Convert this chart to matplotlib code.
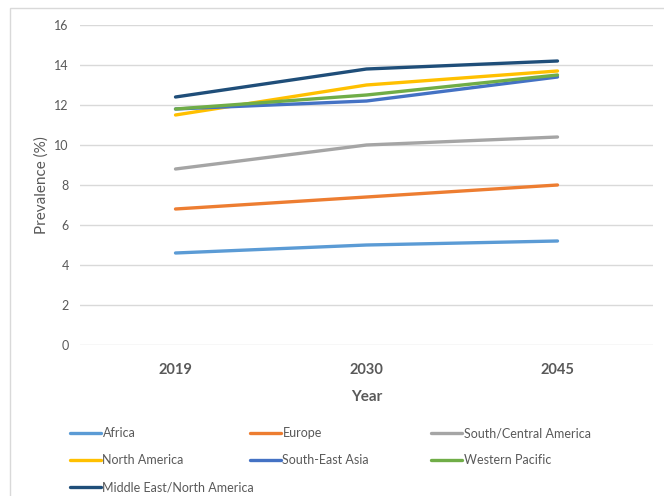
import matplotlib.pyplot as plt
from matplotlib.patches import Rectangle

plt.rcParams['font.family'] = ['Lato', 'DejaVu Sans']

years = ['2019', '2030', '2045']
regions = ['Africa', 'Europe', 'South/Central America', 'North America',
           'South-East Asia', 'Western Pacific', 'Middle East/North America']
africa = [4.6, 5.0, 5.2]
europe = [6.8, 7.4, 8.0]
south_central_america = [8.8, 10.0, 10.4]
north_america = [11.5, 13.0, 13.7]
south_east_asia = [11.8, 12.2, 13.4]
western_pacific = [11.8, 12.5, 13.5]
middle_east_north_africa = [12.4, 13.8, 14.2]

series = [africa, europe, south_central_america, north_america,
          south_east_asia, western_pacific, middle_east_north_africa]
colors = ['#5B9BD5', '#ED7D31', '#A5A5A5', '#FFC000', '#4472C4', '#70AD47', '#1F4E79']
grey = '#595959'

fig = plt.figure(figsize=(6.64, 4.96), dpi=100)
ax = fig.add_axes([80 / 664, 1 - 345 / 496, 573 / 664, 320 / 496])

x = range(len(years))
lines = []
for vals, name, c in zip(series, regions, colors):
    ln, = ax.plot(x, vals, color=c, lw=2.4, label=name, solid_capstyle='round')
    lines.append(ln)

ax.set_xlim(-0.5, 2.5)
ax.set_ylim(0, 16)
ax.set_yticks(range(0, 17, 2))
ax.set_xticks(list(x))
ax.set_xticklabels(years, fontsize=10.5, fontweight='bold', color=grey)
ax.tick_params(axis='y', labelsize=9, colors=grey, length=0, pad=8)
ax.tick_params(axis='x', length=0, pad=13)
ax.grid(axis='y', color='#D9D9D9', lw=1)
ax.set_axisbelow(True)
for s in ax.spines.values():
    s.set_visible(False)

ax.set_xlabel('Year', fontsize=11, fontweight='bold', color=grey, labelpad=9)
ax.set_ylabel('Prevalence (%)', fontsize=11, color=grey, labelpad=4)

# legend laid out row by row in three columns
cols = [[0, 3, 6], [1, 4], [2, 5]]
col_x = [70, 250, 431]
for idx, cx in zip(cols, col_x):
    leg = fig.legend([lines[i] for i in idx], [regions[i] for i in idx],
                     loc='upper left', bbox_to_anchor=(cx / 664, 1 - 427 / 496),
                     frameon=False, fontsize=9, handlelength=2.5,
                     handletextpad=0.1, borderpad=0, borderaxespad=0,
                     labelspacing=1.2, labelcolor=grey)

fig.patches.append(Rectangle((10 / 664, -0.1), 1.1, 1.1 - 8 / 496,
                             transform=fig.transFigure, fill=False,
                             edgecolor='#D9D9D9', lw=1))

fig.savefig('out.png', dpi=100)
